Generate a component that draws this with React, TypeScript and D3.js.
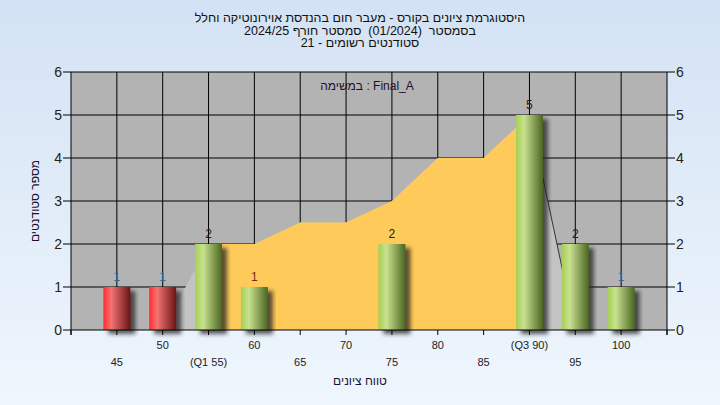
import * as d3 from 'd3'

// grade buckets and student counts
const categories = [45, 50, 55, 60, 65, 70, 75, 80, 85, 90, 95, 100]
const counts = [1, 1, 2, 1, 0, 0, 2, 0, 0, 5, 2, 1]
const failing = [true, true, false, false, false, false, false, false, false, false, false, false]
const areaValues = [0, 0, 2, 2, 2.5, 2.5, 3, 4, 4, 5, 0, 0]
const xLabels = ['45', '50', '(Q1 55)', '60', '65', '70', '75', '80', '85', '(Q3 90)', '95', '100']
const valueColors = ['#2f6a9a', '#2f6a9a', '#222', '#7a2a1c', '#222', '#222', '#222', '#222', '#222', '#222', '#222', '#2f6a9a']
const yTicks = [0, 1, 2, 3, 4, 5, 6]
const q1 = 55
const q3 = 90

const titleLines = [
  'היסטוגרמת ציונים בקורס - מעבר חום בהנדסת אוירונוטיקה וחלל',
  'בסמסטר  (01/2024)  סמסטר חורף 2024/25',
  'סטודנטים רשומים - 21',
]

const W = 720
const H = 405
const FONT = 'Arial, "Liberation Sans", sans-serif'

export default function App() {
  const x = d3.scaleLinear().domain([40, 105]).range([71, 667])
  const y = d3.scaleLinear().domain([0, 6]).range([330, 72])
  const barW = 27

  const pts = categories.map((c, i) => [c, areaValues[i]] as [number, number])
  const area = d3
    .area<[number, number]>()
    .x(d => x(d[0]))
    .y0(y(0))
    .y1(d => y(d[1]))
  const edge = d3
    .line<[number, number]>()
    .x(d => x(d[0]))
    .y(d => y(d[1]))

  const iq3 = categories.indexOf(q3)
  const tickX = d3.range(40, 106, 5)

  return (
    <svg
      width={W}
      height={H}
      style={{ position: 'absolute', left: 0, top: 0 }}
      fontFamily={FONT}
    >
      <defs>
        <linearGradient id="bg" x1="0" y1="0" x2="0" y2="1">
          <stop offset="0%" stopColor="#d3e2f4" />
          <stop offset="100%" stopColor="#eff6fd" />
        </linearGradient>
        <linearGradient id="red" x1="0" y1="0" x2="1" y2="0">
          <stop offset="0%" stopColor="#ff2d2d" />
          <stop offset="30%" stopColor="#f27474" />
          <stop offset="100%" stopColor="#6b1212" />
        </linearGradient>
        <linearGradient id="green" x1="0" y1="0" x2="1" y2="0">
          <stop offset="0%" stopColor="#a6cf55" />
          <stop offset="30%" stopColor="#c9e18f" />
          <stop offset="100%" stopColor="#4a6621" />
        </linearGradient>
        <filter id="shadow" x="-30%" y="-10%" width="160%" height="130%">
          <feDropShadow dx="5" dy="4" stdDeviation="2" floodColor="#222" floodOpacity="0.75" />
        </filter>
        <clipPath id="iqr">
          <rect x={x(q1)} y={y(6)} width={x(q3) - x(q1)} height={y(0) - y(6)} />
        </clipPath>
      </defs>

      <rect x={0} y={0} width={W} height={H} fill="url(#bg)" />

      {/* title */}
      {titleLines.map((t, i) => (
        <text
          key={i}
          x={360}
          y={22 + i * 12.5}
          textAnchor="middle"
          fontSize={12.5}
          fill="#111"
          style={{ whiteSpace: 'pre' }}
        >
          {t}
        </text>
      ))}

      {/* plot area */}
      <rect x={x(40)} y={y(6)} width={x(105) - x(40)} height={y(0) - y(6)} fill="#b3b3b3" />

      {/* grid */}
      {yTicks.slice(1).map(v => (
        <line key={'gy' + v} x1={x(40)} x2={x(105)} y1={y(v)} y2={y(v)} stroke="#000" strokeWidth={1} />
      ))}
      {categories.map(c => (
        <line key={'gx' + c} x1={x(c)} x2={x(c)} y1={y(6)} y2={y(0)} stroke="#000" strokeWidth={1} />
      ))}

      {/* distribution area, orange between the quartiles */}
      <path d={area(pts) || ''} fill="#c3c3c3" />
      <path d={area(pts) || ''} fill="#fecb5a" clipPath="url(#iqr)" />
      <path d={edge(pts.slice(iq3, iq3 + 2)) || ''} fill="none" stroke="#333" strokeWidth={1} />

      <text x={367} y={90} textAnchor="middle" fontSize={12} fill="#1a1030">
        במשימה : Final_A
      </text>

      {/* bars */}
      {categories.map((c, i) =>
        counts[i] > 0 ? (
          <rect
            key={'b' + c}
            x={x(c) - barW / 2}
            y={y(counts[i])}
            width={barW}
            height={y(0) - y(counts[i])}
            fill={failing[i] ? 'url(#red)' : 'url(#green)'}
            filter="url(#shadow)"
          />
        ) : null
      )}
      {categories.map((c, i) =>
        counts[i] > 0 ? (
          <text
            key={'v' + c}
            x={x(c)}
            y={y(counts[i]) - 6}
            textAnchor="middle"
            fontSize={12}
            fill={valueColors[i]}
          >
            {counts[i]}
          </text>
        ) : null
      )}

      {/* axes */}
      <line x1={x(40)} x2={x(40)} y1={y(6)} y2={y(0) + 5} stroke="#000" />
      <line x1={x(105)} x2={x(105)} y1={y(6)} y2={y(0) + 5} stroke="#000" />
      <line x1={x(40)} x2={x(105)} y1={y(0)} y2={y(0)} stroke="#000" />
      {yTicks.map(v => (
        <g key={'yt' + v}>
          <line x1={x(40) - 8} x2={x(40)} y1={y(v)} y2={y(v)} stroke="#000" />
          <text x={x(40) - 9} y={y(v) + 5} textAnchor="end" fontSize={14} fill="#222">
            {v}
          </text>
          <line x1={x(105)} x2={x(105) + 8} y1={y(v)} y2={y(v)} stroke="#000" />
          <text x={x(105) + 9} y={y(v) + 5} textAnchor="start" fontSize={14} fill="#222">
            {v}
          </text>
        </g>
      ))}
      {tickX.map(c => (
        <line key={'xt' + c} x1={x(c)} x2={x(c)} y1={y(0)} y2={y(0) + 5} stroke="#000" />
      ))}
      {categories.map((c, i) => (
        <text
          key={'xl' + c}
          x={x(c)}
          y={i % 2 === 1 ? 349 : 366}
          textAnchor="middle"
          fontSize={11}
          fill="#222"
        >
          {xLabels[i]}
        </text>
      ))}

      {/* axis titles */}
      <text x={360} y={385} textAnchor="middle" fontSize={12} fill="#1a1030">
        טווח ציונים
      </text>
      <text
        transform="translate(39,201) rotate(-90)"
        textAnchor="middle"
        fontSize={12}
        fill="#1a1030"
      >
        מספר סטודנטים
      </text>
    </svg>
  )
}
